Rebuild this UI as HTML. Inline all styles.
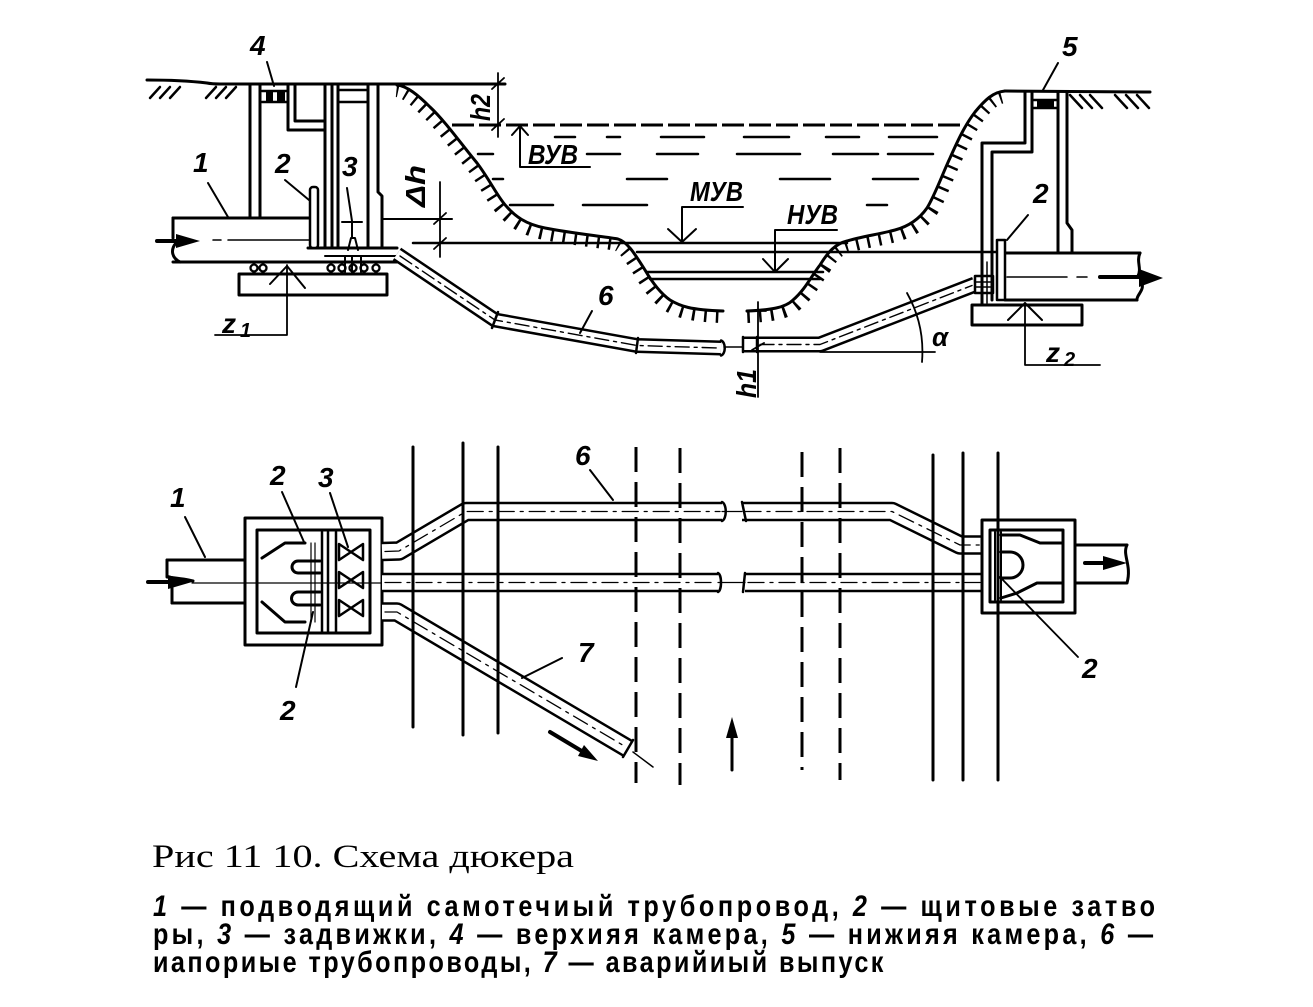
<!DOCTYPE html>
<html><head><meta charset="utf-8"><style>
html,body{margin:0;padding:0;background:#fff;}
svg{display:block}
.l{font-family:"Liberation Sans","DejaVu Sans",sans-serif;font-weight:bold;font-style:italic;font-size:28px;fill:#000;stroke:none}
.c{font-family:"Liberation Sans","DejaVu Sans",sans-serif;font-weight:bold;font-size:26px;fill:#000;stroke:none}
.t{font-family:"Liberation Serif","DejaVu Serif",serif;font-size:34px;fill:#000;stroke:none}
</style></head><body>
<svg width="1313" height="1007" viewBox="0 0 1313 1007" xmlns="http://www.w3.org/2000/svg">
<rect width="1313" height="1007" fill="#fff"/>
<g fill="none" stroke="#000" stroke-width="3" stroke-linecap="round" stroke-linejoin="round">

<!-- bank hatches -->
<path stroke-width="24" stroke-dasharray="2.5 9" stroke-linecap="butt" d="M397,85 C407,86 418,95 430,107 C445,121 462,145 477,163 C490,180 498,198 507,207 C515,216 525,224 545,228 C570,233 600,236 618,239 C628,242 636,256 645,270 C652,282 660,293 670,300 C680,306 690,310 723,311"/>
<path stroke-width="24" stroke-dasharray="2.5 9" stroke-linecap="butt" d="M747,311 C770,310 785,308 793,300 C805,290 812,275 820,265 C828,252 835,244 847,241 C860,237 880,234 895,230 C910,226 920,218 927,208 C935,195 942,175 950,158 C958,140 965,125 975,112 C985,100 993,92 1005,91"/>
<path fill="#fff" stroke="none" d="M397,85 C407,86 418,95 430,107 C445,121 462,145 477,163 C490,180 498,198 507,207 C515,216 525,224 545,228 C570,233 600,236 618,239 C628,242 636,256 645,270 C652,282 660,293 670,300 C680,306 690,310 723,311 L747,311 C770,310 785,308 793,300 C805,290 812,275 820,265 C828,252 835,244 847,241 C860,237 880,234 895,230 C910,226 920,218 927,208 C935,195 942,175 950,158 C958,140 965,125 975,112 C985,100 993,92 1005,91 L1005,40 L397,40 Z"/>
<path d="M397,85 C407,86 418,95 430,107 C445,121 462,145 477,163 C490,180 498,198 507,207 C515,216 525,224 545,228 C570,233 600,236 618,239 C628,242 636,256 645,270 C652,282 660,293 670,300 C680,306 690,310 723,311"/>
<path d="M747,311 C770,310 785,308 793,300 C805,290 812,275 820,265 C828,252 835,244 847,241 C860,237 880,234 895,230 C910,226 920,218 927,208 C935,195 942,175 950,158 C958,140 965,125 975,112 C985,100 993,92 1005,91"/>

<!-- ground -->
<path d="M147,80 C165,80 190,81 207,83 C212,84 215,84 220,84 L505,84"/>
<path d="M1005,91 L1150,92"/>
<path stroke-width="2.5" d="M160,87 L150,98 M170,87 L160,98 M180,87 L170,98 M216,87 L206,98 M226,87 L216,98 M236,87 L226,98"/>
<path stroke-width="2.5" d="M1070,95 L1082,108 M1080,95 L1092,108 M1090,95 L1102,108 M1115,95 L1127,108 M1126,95 L1138,108 M1137,95 L1149,108"/>

<!-- left chamber profile -->
<path d="M250,84 V218 M260,84 V218"/>
<path stroke-width="2.5" d="M262,91 H288 M262,102 H288"/>
<rect x="266" y="92" width="7" height="9" fill="#000" stroke="none"/>
<rect x="277" y="92" width="8" height="9" fill="#000" stroke="none"/>
<path d="M288,84 V130 H325 M295,84 V121 H325"/>
<path d="M325,84 V248 M332,84 V248 M338,84 V248"/>
<path stroke-width="2.5" d="M338,90 H368 M338,102 H368"/>
<path d="M368,84 V248 M378,84 V192 L382,196 V248"/>
<path d="M308,248 H397"/>
<path stroke-width="2" d="M325,256 H397"/>
<!-- pipe 1 profile -->
<path d="M173,218 H310 M173,262 H397"/>
<path d="M173,218 V238 M176,243 C170,250 172,258 180,262"/>
<path stroke-width="4" d="M157,241 H182"/>
<polygon points="176,234 200,241 176,248" fill="#000" stroke="none"/>
<path stroke-width="1.5" d="M213,240 H221 M228,240 H310"/>
<rect x="310" y="187" width="8" height="61" rx="3" fill="#fff" stroke-width="2.5"/>
<path stroke-width="2" d="M342,222 H362 M352,222 V237 M348,250 L351,238 H355 L358,250 M345,256 V272 M352,256 V272 M361,256 V272"/>
<g stroke-width="2.3">
<circle cx="254" cy="268" r="3.5"/><circle cx="263" cy="268" r="3.5"/>
<circle cx="331" cy="268" r="3.5"/><circle cx="342" cy="268" r="3.5"/><circle cx="353" cy="268" r="3.5"/><circle cx="364" cy="268" r="3.5"/><circle cx="376" cy="268" r="3.5"/>
</g>
<rect x="239" y="274" width="148" height="21"/>
<path stroke-width="1.8" d="M287,265 V335 H215"/>
<path stroke-width="2" d="M270,284 L287,266 L305,288"/>

<!-- labels left profile -->
<path stroke-width="2" d="M267,62 L274,86 M208,183 L228,217 M285,180 L309,200 M347,188 L352,221"/>

<!-- dimensions -->
<path stroke-width="1.8" d="M440,182 V257 M434,224 L446,213 M434,249 L446,238"/>
<path stroke-width="2" d="M382,219 H452"/>
<path stroke-width="2.5" d="M413,243 H847"/>
<path stroke-width="1.8" d="M498,73 V137 M492,89 L504,78 M492,130 L504,119"/>

<!-- water -->
<path stroke-width="3" stroke-dasharray="22 5" stroke-linecap="butt" d="M452,125 H962"/>
<path stroke-width="2.5" d="M555,137 H575 M607,137 H620 M661,137 H704 M744,137 H789 M826,137 H859 M889,137 H937
M478,154 H493 M587,154 H620 M657,154 H698 M737,154 H800 M833,154 H878 M888,154 H933
M493,179 H503 M627,179 H667 M780,179 H830 M873,179 H918
M510,205 H553 M583,205 H647 M867,205 H887"/>
<path stroke-width="2" d="M520,127 V167 H590 M512,135 L520,126 L528,135"/>
<path stroke-width="2" d="M682,242 V207 H743 M668,229 L682,242 L696,229"/>
<path stroke-width="2" d="M775,272 V230 H837 M763,259 L775,272 L788,259"/>
<path stroke-width="2.5" d="M637,252 H997 M647,272 H823 M650,279 H820"/>

<!-- pipe 6 profile -->
<path stroke-width="15" stroke-linecap="butt" d="M397,254 L495,320 L637,345.5 L721,348"/>
<path stroke-width="10" stroke="#fff" stroke-linecap="butt" d="M397,254 L495,320 L637,345.5 L721,348"/>
<path stroke-width="1.4" stroke-dasharray="14 5 3 5" d="M400,256 L495,320 L637,345.5 L718,348"/>
<path stroke-width="2.5" d="M721,340.5 C726,342 726,354 721,355.5 M498,312 L492,328 M638,338 L636,353"/>
<path stroke-width="1.5" d="M724,347 H743"/>
<path stroke-width="16" stroke-linecap="butt" d="M743,344.5 L820,344.5 L975,284.5"/>
<path stroke-width="11" stroke="#fff" stroke-linecap="butt" d="M743,344.5 L820,344.5 L975,284.5"/>
<path stroke-width="1.4" stroke-dasharray="14 5 3 5" d="M760,344.5 L820,344.5 L972,285.5"/>
<path stroke-width="2.5" d="M743,337 V352 M757,337 V352"/>
<rect x="975" y="276" width="18" height="17" stroke-width="2.5" fill="#fff"/>
<path stroke-width="1.5" d="M975,282 H993 M975,287 H993"/>
<path stroke-width="2" d="M592,311 L580,333"/>
<!-- alpha, h1 -->
<path stroke-width="1.8" d="M820,352 H935 M907,293 Q925,325 922,362 M758,302 V397 M748,311 H766 M752,350 L764,343"/>

<!-- right chamber profile -->
<path d="M1025,92 V143 H982 V305 M1032,92 V152 H992 V300"/>
<path stroke-width="1.5" d="M987,262 V303"/>
<path stroke-width="2.5" d="M1032,100 H1058 M1032,108 H1058"/>
<rect x="1037" y="101" width="17" height="6" fill="#000" stroke="none"/>
<path d="M1058,92 V253 M1067,92 V223 L1072,230 V253"/>
<path d="M1005,253 H1140 M1005,300 H1137"/>
<path d="M1140,253 C1136,262 1142,268 1138,276 M1141,281 C1146,290 1136,295 1137,300"/>
<path stroke-width="1.5" d="M1007,277 H1067 M1077,277 H1087"/>
<path stroke-width="4" d="M1100,277 H1145"/>
<polygon points="1139,269 1163,278 1139,287" fill="#000" stroke="none"/>
<rect x="997" y="240" width="8" height="60" stroke-width="2.5" fill="#fff"/>
<path stroke-width="2" d="M1028,215 L1007,240 M1058,63 L1043,90"/>
<rect x="972" y="305" width="110" height="20"/>
<path stroke-width="1.8" d="M1025,303 V365 H1100"/>
<path stroke-width="2" d="M1008,320 L1025,303 L1042,320"/>

<!-- ===== PLAN ===== -->
<path d="M167,560 H245 M172,603 H245"/>
<path d="M167,560 V577 C176,578 186,579 193,581 M172,588 V603"/>
<path stroke-width="4" d="M148,582 H178"/>
<polygon points="168,575 192,582 168,589" fill="#000" stroke="none"/>
<path stroke-width="1.2" d="M192,583 H382"/>
<rect x="245" y="518" width="137" height="127"/>
<rect x="257" y="530" width="113" height="103"/>
<path d="M262,558 L285,543 H305 M262,602 L285,622 H305"/>
<path d="M320,561 H298 A6,6 0 0 0 298,573 H320 M320,592 H298 A6.5,6.5 0 0 0 298,605 H320"/>
<path stroke-width="1.2" d="M311,543 V622 M315,543 V622"/>
<path stroke-width="2.5" d="M322,532 V632 M328,532 V632 M336,532 V632"/>
<g stroke-width="2.5">
<path d="M339,544 L351,552 L339,560 Z M363,544 L351,552 L363,560 Z"/>
<path d="M339,572 L351,580 L339,588 Z M363,572 L351,580 L363,588 Z"/>
<path d="M339,600 L351,608 L339,616 Z M363,600 L351,608 L363,616 Z"/>
</g>
<path stroke-width="2" d="M282,492 L304,542 M330,493 L348,547 M296,687 L313,612 M185,517 L205,557"/>

<!-- plan pipes -->
<g stroke-linecap="butt">
<path stroke-width="19.5" d="M382,551.5 L399,551 L466,511.5 L722,511.5 M382,582.5 L718,582.5 M382,612 L397,612 L628,748.5 M742,511.5 L892,511.5 L960,545 L982,545 M745,582.5 L982,582.5"/>
<path stroke-width="14.5" stroke="#fff" d="M382,551.5 L399,551 L466,511.5 L722,511.5 M382,582.5 L718,582.5 M382,612 L397,612 L628,748.5 M742,511.5 L892,511.5 L960,545 L982,545 M745,582.5 L982,582.5"/>
</g>
<path stroke-width="1.3" stroke-dasharray="16 6 3 6" d="M385,551.5 L399,551 L466,511.5 L720,511.5 M385,582.5 L716,582.5 M385,612 L397,612 L626,747 M745,511.5 L892,511.5 L960,545 L980,545 M748,582.5 L980,582.5"/>
<path stroke-width="1.2" d="M722,511.5 H742 M718,582.5 H745"/>
<path stroke-width="2.5" d="M722,502 C727,504 727,519 722,521 M718,573 C722,575 722,590 718,592 M742,502 L746,521 M745,573 L743,592 M633,740 L623,757"/>
<path stroke-width="1.5" d="M633,752 L653,767"/>

<!-- right chamber plan -->
<rect x="982" y="520" width="93" height="93"/>
<rect x="990" y="530" width="73" height="72"/>
<path stroke-width="2" d="M995,532 V600 M1001,532 V600"/>
<path d="M1001,552 H1010 A13,13 0 0 1 1010,578 H1001"/>
<path d="M1001,535 H1020 L1040,543 H1063 M1001,598 L1017,593 L1037,583 H1063"/>
<path d="M1075,545 H1127 M1075,583 H1127 M1127,545 C1122,555 1132,565 1127,583"/>
<path stroke-width="4" d="M1085,563 H1108"/>
<polygon points="1103,556 1127,563 1103,570" fill="#000" stroke="none"/>
<path stroke-width="1.8" d="M1078,657 L1000,577"/>

<!-- river lines -->
<path d="M413,447 V727 M463,443 V735 M498,447 V733 M933,455 V780 M963,453 V780 M998,453 V780"/>
<path stroke-dasharray="25 10" stroke-linecap="butt" d="M636,447 V783 M680,448 V785 M802,452 V770 M840,448 V780"/>
<path d="M732,770 V735"/>
<polygon points="726,738 732,717 738,738" fill="#000" stroke="none"/>
<path stroke-width="2" d="M562,658 L522,678 M590,470 L613,500"/>
<path stroke-width="4" d="M550,732 L585,753"/>
<polygon points="598,761 578,756 584,745" fill="#000" stroke="none"/>
</g>

<!-- labels -->
<text class="l" x="250" y="55">4</text>
<text class="l" x="1062" y="56">5</text>
<text class="l" x="193" y="172">1</text>
<text class="l" x="275" y="173">2</text>
<text class="l" x="342" y="176">3</text>
<text class="l" x="222" y="333">z</text><text class="l" x="240" y="337" style="font-size:20px">1</text>
<text class="l" x="1046" y="362">z</text><text class="l" x="1064" y="366" style="font-size:20px">2</text>
<text class="l" x="1033" y="203">2</text>
<text class="l" x="598" y="305">6</text>
<text class="l" x="528" y="164" textLength="50" lengthAdjust="spacingAndGlyphs">ВУВ</text>
<text class="l" x="690" y="201" textLength="53" lengthAdjust="spacingAndGlyphs">МУВ</text>
<text class="l" x="787" y="224" textLength="51" lengthAdjust="spacingAndGlyphs">НУВ</text>
<text class="l" x="425" y="207" transform="rotate(-90 425 207)" textLength="42" lengthAdjust="spacingAndGlyphs">Δh</text>
<text class="l" x="490" y="121" transform="rotate(-90 490 121)" textLength="27" lengthAdjust="spacingAndGlyphs">h2</text>
<text class="l" x="756" y="398" transform="rotate(-90 756 398)" textLength="29" lengthAdjust="spacingAndGlyphs">h1</text>
<text class="l" x="932" y="346" style="font-size:26px">α</text>

<text class="l" x="170" y="507">1</text>
<text class="l" x="270" y="485">2</text>
<text class="l" x="318" y="487">3</text>
<text class="l" x="280" y="720">2</text>
<text class="l" x="575" y="465">6</text>
<text class="l" x="578" y="662">7</text>
<text class="l" x="1082" y="678">2</text>

<!-- caption -->
<text class="t" transform="translate(152,867) scale(1,0.95)" x="0" y="0" textLength="422" lengthAdjust="spacingAndGlyphs">Рис  11 10. Схема дюкера</text>
<text class="c" transform="translate(153,916) scale(0.97,1.14)" x="0" y="0" textLength="1033" lengthAdjust="spacing"><tspan font-style="italic">1</tspan> — подводящий самотечиый трубопровод, <tspan font-style="italic">2</tspan> — щитовые затво</text>
<text class="c" transform="translate(153,944) scale(0.97,1.14)" x="0" y="0" textLength="1031" lengthAdjust="spacing">ры, <tspan font-style="italic">3</tspan> — задвижки, <tspan font-style="italic">4</tspan> — верхияя камера, <tspan font-style="italic">5</tspan> — нижияя камера, <tspan font-style="italic">6</tspan> —</text>
<text class="c" transform="translate(153,972) scale(0.97,1.14)" x="0" y="0" textLength="753" lengthAdjust="spacing">иапориые трубопроводы, <tspan font-style="italic">7</tspan> — аварийиый выпуск</text>
</svg>
</body></html>
